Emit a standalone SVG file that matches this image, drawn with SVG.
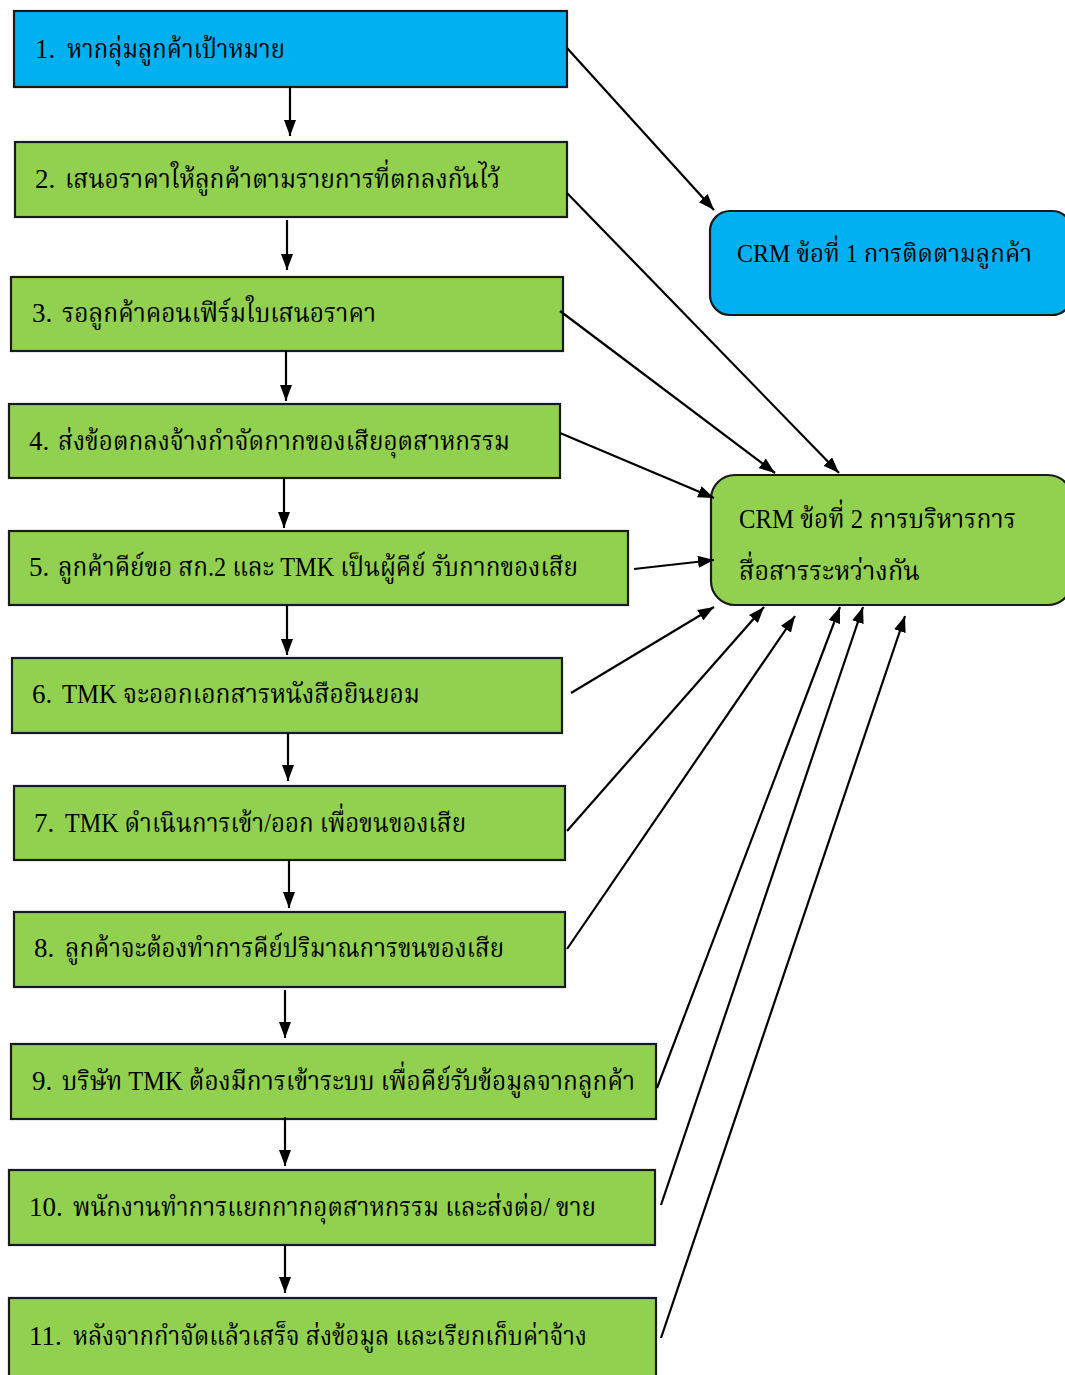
<svg xmlns="http://www.w3.org/2000/svg" width="1065" height="1375" viewBox="0 0 1065 1375">
<defs>
<marker id="ah" viewBox="0 0 16 12" refX="16" refY="6" markerWidth="16" markerHeight="12" markerUnits="userSpaceOnUse" orient="auto">
<path d="M0,0 L16,6 L0,12 z" fill="#000"/>
</marker>
<style>
.box{stroke:#1a1a1a;stroke-width:2.2}
.g{fill:#92D050}
.b{fill:#00B0F0}
.t{font-family:"Liberation Serif","Noto Serif Thai","Noto Sans Thai",serif;font-size:27px;fill:#000}
.c line{stroke:#000;stroke-width:2.2;marker-end:url(#ah)}
</style>
</defs>
<rect width="1065" height="1375" fill="#fff"/>
<g id="n1"><rect class="box b" x="14" y="11" width="553" height="76"/><text class="t" x="35" y="58">1.</text><text class="t" x="67" y="58" textLength="218" lengthAdjust="spacingAndGlyphs">หากลุ่มลูกค้าเป้าหมาย</text></g>
<g id="n2"><rect class="box g" x="15" y="142" width="552" height="75"/><text class="t" x="35" y="188">2.</text><text class="t" x="65" y="188" textLength="435" lengthAdjust="spacingAndGlyphs">เสนอราคาให้ลูกค้าตามรายการที่ตกลงกันไว้</text></g>
<g id="n3"><rect class="box g" x="11" y="277" width="552" height="74"/><text class="t" x="32" y="322">3.</text><text class="t" x="62" y="322" textLength="314" lengthAdjust="spacingAndGlyphs">รอลูกค้าคอนเฟิร์มใบเสนอราคา</text></g>
<g id="n4"><rect class="box g" x="9" y="404" width="551" height="74"/><text class="t" x="29" y="450">4.</text><text class="t" x="58" y="450" textLength="452" lengthAdjust="spacingAndGlyphs">ส่งข้อตกลงจ้างกำจัดกากของเสียอุตสาหกรรม</text></g>
<g id="n5"><rect class="box g" x="9" y="531" width="619" height="74"/><text class="t" x="29" y="576">5.</text><text class="t" x="58" y="576" textLength="520" lengthAdjust="spacingAndGlyphs">ลูกค้าคีย์ขอ สก.2 และ TMK เป็นผู้คีย์ รับกากของเสีย</text></g>
<g id="n6"><rect class="box g" x="12" y="658" width="550" height="75"/><text class="t" x="32" y="703">6.</text><text class="t" x="62" y="703" textLength="358" lengthAdjust="spacingAndGlyphs">TMK จะออกเอกสารหนังสือยินยอม</text></g>
<g id="n7"><rect class="box g" x="14" y="786" width="551" height="74"/><text class="t" x="34" y="832">7.</text><text class="t" x="65" y="832" textLength="401" lengthAdjust="spacingAndGlyphs">TMK ดำเนินการเข้า/ออก เพื่อขนของเสีย</text></g>
<g id="n8"><rect class="box g" x="14" y="912" width="551" height="75"/><text class="t" x="34" y="957">8.</text><text class="t" x="65" y="957" textLength="439" lengthAdjust="spacingAndGlyphs">ลูกค้าจะต้องทำการคีย์ปริมาณการขนของเสีย</text></g>
<g id="n9"><rect class="box g" x="11" y="1044" width="645" height="75"/><text class="t" x="32" y="1090">9.</text><text class="t" x="62" y="1090" textLength="573" lengthAdjust="spacingAndGlyphs">บริษัท TMK ต้องมีการเข้าระบบ เพื่อคีย์รับข้อมูลจากลูกค้า</text></g>
<g id="n10"><rect class="box g" x="9" y="1170" width="646" height="75"/><text class="t" x="29" y="1216">10.</text><text class="t" x="73" y="1216" textLength="523" lengthAdjust="spacingAndGlyphs">พนักงานทำการแยกกากอุตสาหกรรม และส่งต่อ/ ขาย</text></g>
<g id="n11"><rect class="box g" x="9" y="1298" width="647" height="90"/><text class="t" x="29" y="1345">11.</text><text class="t" x="73" y="1345" textLength="514" lengthAdjust="spacingAndGlyphs">หลังจากกำจัดแล้วเสร็จ ส่งข้อมูล และเรียกเก็บค่าจ้าง</text></g>
<g id="crm1"><rect class="box b" x="710" y="211" width="362" height="104" rx="20"/><text class="t" x="737" y="262" style="font-size:25px" textLength="295" lengthAdjust="spacingAndGlyphs">CRM ข้อที่ 1 การติดตามลูกค้า</text></g>
<g id="crm2"><rect class="box g" x="711" y="475" width="361" height="130" rx="24"/><text class="t" x="739" y="528" textLength="277" lengthAdjust="spacingAndGlyphs">CRM ข้อที่ 2 การบริหารการ</text><text class="t" x="739" y="580" textLength="181" lengthAdjust="spacingAndGlyphs">สื่อสารระหว่างกัน</text></g>
<g id="connectors" class="c">
<line x1="290" y1="87" x2="290" y2="136"/>
<line x1="287" y1="220" x2="287" y2="270"/>
<line x1="286" y1="351" x2="286" y2="401"/>
<line x1="284" y1="478" x2="284" y2="528"/>
<line x1="287" y1="605" x2="287" y2="655"/>
<line x1="288" y1="733" x2="288" y2="781"/>
<line x1="289" y1="860" x2="289" y2="908"/>
<line x1="285" y1="990" x2="285" y2="1038"/>
<line x1="285" y1="1117" x2="285" y2="1166"/>
<line x1="285" y1="1245" x2="285" y2="1293"/>
<line x1="567" y1="48" x2="714" y2="210"/>
<line x1="567" y1="193" x2="839" y2="473"/>
<line x1="560" y1="311" x2="775" y2="473"/>
<line x1="560" y1="433" x2="714" y2="498"/>
<line x1="634" y1="569" x2="714" y2="560"/>
<line x1="571" y1="693" x2="714" y2="607"/>
<line x1="567" y1="831" x2="764" y2="607"/>
<line x1="567" y1="949" x2="795" y2="616"/>
<line x1="657" y1="1088" x2="840" y2="607"/>
<line x1="661" y1="1205" x2="863" y2="607"/>
<line x1="661" y1="1338" x2="905" y2="616"/>
</g>
</svg>
